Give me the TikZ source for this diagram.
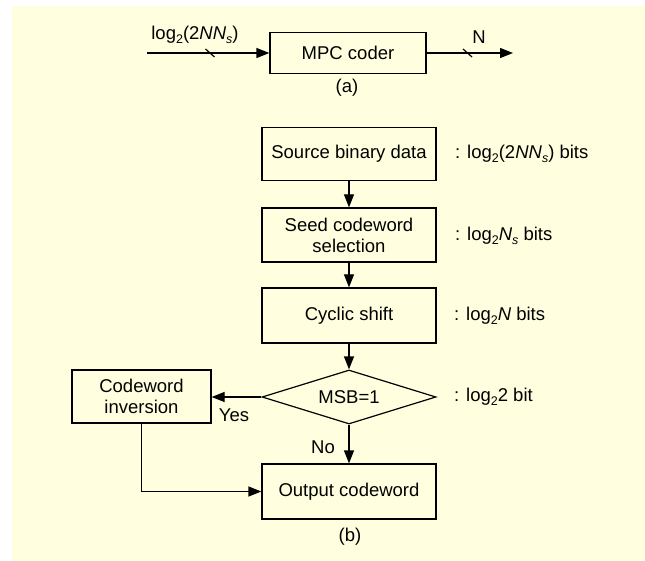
\documentclass[tikz,border=0pt]{standalone}
\usepackage{fontspec}
\setmainfont{Liberation Sans}
\usetikzlibrary{shapes.geometric,arrows.meta}
\definecolor{bgyellow}{HTML}{FFFFE0}
\newcommand{\fs}{\fontsize{18.5}{21}\selectfont}
\newcommand{\sbs}[1]{\raisebox{-0.35ex}{\fontsize{12.5}{13}\selectfont #1}}
\begin{document}
\begin{tikzpicture}[x=1pt,y=-1pt,
  every node/.style={font=\fs},
  box/.style={draw, line width=1.2pt, minimum width=174pt, minimum height=54pt, inner sep=0pt, align=center},
  dec/.style={draw, diamond, line width=1.2pt, minimum width=174pt, minimum height=54pt, aspect=3.2, inner sep=0pt},
  arr/.style={line width=1.2pt, -{Triangle[length=13pt,width=10pt]}},
  ln/.style={line width=1.2pt},
  note/.style={anchor=west, inner sep=0pt}]
\useasboundingbox (0,0) rectangle (645,561);
\fill[bgyellow] (12,6) rectangle (645,561);
% (a)
\node[box, minimum width=156pt, minimum height=41pt] (mpc) at (348,53) {MPC coder};
\coordinate (inp) at (147,53);
\coordinate (outp) at (513,53);
\draw[arr] (inp) -- (mpc);
\draw[arr] (mpc) -- (outp);
\draw[ln] (205.5,49) -- (214.5,57);
\draw[ln] (463,49) -- (472,57);
\node[inner sep=0pt] (inlab) at (195,35) {log\sbs{2}(2\textit{NN}\sbs{\textit{s}})};
\node[inner sep=0pt] (nlab) at (479,37) {N};
\node[inner sep=0pt] (capa) at (347,88) {(a)};
% (b)
\node[box, minimum height=53pt] (src) at (349,154) {Source binary data};
\node[box] (seed) at (349,235) {Seed codeword\\selection};
\node[box, minimum height=55pt] (cyc) at (349,315.5) {Cyclic shift};
\node[dec] (dia) at (349,397) {MSB=1};
\node[box, minimum width=139pt, minimum height=53pt] (inv) at (141.5,396.5) {Codeword\\inversion};
\node[box, minimum height=55pt] (out) at (349,491.5) {Output codeword};
\draw[arr] (src) -- (seed);
\draw[arr] (seed) -- (cyc);
\draw[arr] (cyc) -- (dia);
\draw[arr] (dia.west) -- (inv.east |- dia.west);
\draw[arr] (dia) -- (out);
\draw[arr] (inv.south) |- (out.west);
\node[inner sep=0pt] (yes) at (234,415) {Yes};
\node[inner sep=0pt] (no) at (323,447) {No};
\node[inner sep=0pt] (capb) at (350,537) {(b)};
\node[note] (n1) at (455,154) {: log\sbs{2}(2\textit{NN}\sbs{\textit{s}}) bits};
\node[note] (n2) at (455,236) {: log\sbs{2}\textit{N}\sbs{\textit{s}} bits};
\node[note] (n3) at (454,316) {: log\sbs{2}\textit{N} bits};
\node[note] (n4) at (454,397) {: log\sbs{2}2 bit};
\end{tikzpicture}
\end{document}
